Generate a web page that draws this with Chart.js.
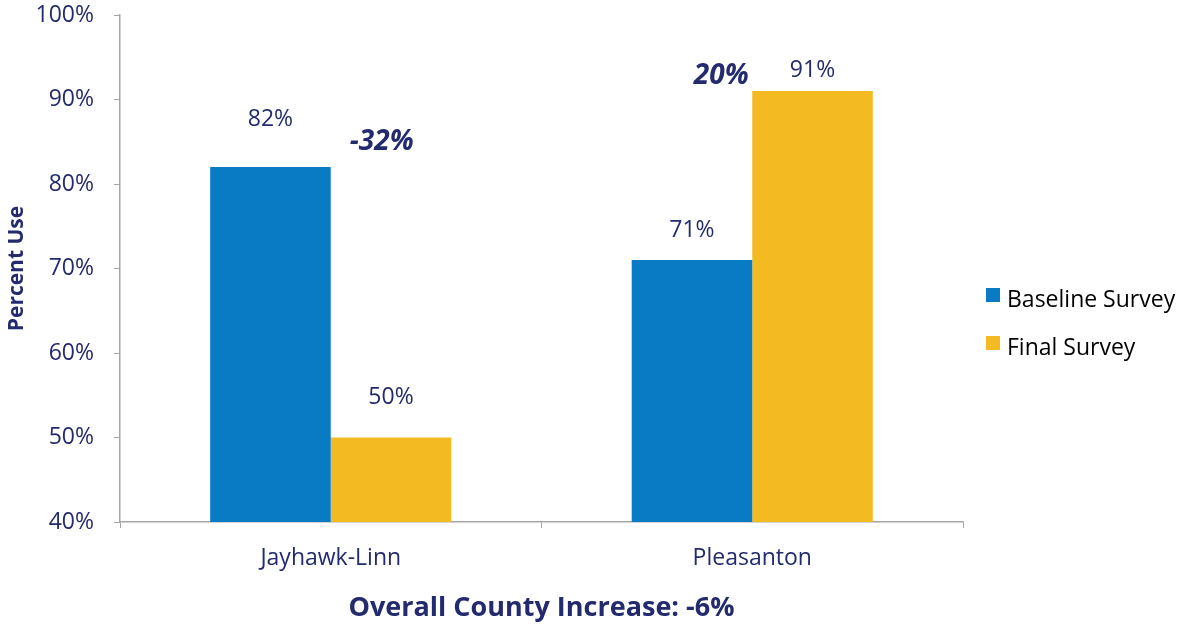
<!DOCTYPE html>
<html>
<head>
<meta charset="utf-8">
<script src="https://cdn.jsdelivr.net/npm/chart.js@4"></script>
<style>
  html, body { margin: 0; padding: 0; background: #fff; }
</style>
</head>
<body>
<canvas id="useChart" width="1185" height="625"></canvas>
<script>
const sites = ['Jayhawk-Linn', 'Pleasanton'];
const baseline = [82, 71];
const finalSurvey = [50, 91];
const changeLabels = ['-32%', '20%'];
const seriesNames = ['Baseline Survey', 'Final Survey'];
const overallLabel = 'Overall County Increase: -6%';

const navy = '#232B6E';
const blue = '#087BC4';
const gold = '#F4BA21';
const axisGray = '#A6A6A6';
const fontFamily = '"Open Sans", Lato, sans-serif';

// how far above each bar top its value label sits (px)
const valueLift = [[48, 30], [40, 21]];
// change label position relative to group centre and tallest bar top
const changeNudge = [{ dx: 51, dy: -25 }, { dx: -31, dy: -15 }];

const labelsPlugin = {
  id: 'labels',
  afterDatasetsDraw(chart) {
    const ctx = chart.ctx;
    ctx.save();
    ctx.textAlign = 'center';
    ctx.textBaseline = 'middle';

    // value labels over each bar
    ctx.font = '23px ' + fontFamily;
    ctx.fillStyle = navy;
    chart.data.datasets.forEach((ds, d) => {
      chart.getDatasetMeta(d).data.forEach((bar, i) => {
        ctx.fillText(ds.data[i] + '%', bar.x, bar.y - valueLift[d][i]);
      });
    });

    // change between surveys
    ctx.font = 'italic bold 28px ' + fontFamily;
    const b = chart.getDatasetMeta(0).data;
    const f = chart.getDatasetMeta(1).data;
    changeLabels.forEach((txt, i) => {
      const cx = (b[i].x + f[i].x) / 2;
      const top = Math.min(b[i].y, f[i].y);
      ctx.fillText(txt, cx + changeNudge[i].dx, top + changeNudge[i].dy);
    });

    // legend on the right
    const lx = 986, ly = [300, 348];
    ctx.textAlign = 'left';
    ctx.font = '23px ' + fontFamily;
    seriesNames.forEach((name, i) => {
      ctx.fillStyle = chart.data.datasets[i].backgroundColor;
      ctx.fillRect(lx, ly[i] - 12, 14, 14);
      ctx.fillStyle = '#000';
      ctx.fillText(name, lx + 21, ly[i]);
    });
    ctx.restore();
  }
};

new Chart(document.getElementById('useChart').getContext('2d'), {
  type: 'bar',
  data: {
    labels: sites,
    datasets: [
      { label: seriesNames[0], data: baseline, backgroundColor: blue },
      { label: seriesNames[1], data: finalSurvey, backgroundColor: gold }
    ]
  },
  options: {
    responsive: false,
    animation: false,
    layout: { padding: { top: 15, right: 222, left: 0, bottom: 0 } },
    datasets: { bar: { categoryPercentage: 0.572, barPercentage: 1.0 } },
    plugins: {
      legend: { display: false },
      tooltip: { enabled: false }
    },
    scales: {
      y: {
        min: 40,
        max: 100,
        ticks: {
          stepSize: 10,
          padding: 20,
          color: navy,
          font: { family: fontFamily, size: 23 },
          callback: v => v + '%'
        },
        grid: { drawOnChartArea: false, tickLength: 6, color: axisGray },
        border: { color: axisGray, width: 1.5 },
        title: {
          display: true,
          text: 'Percent Use',
          color: navy,
          font: { family: fontFamily, size: 21, weight: 'bold' },
          padding: { top: 4, bottom: 0 }
        },
        afterFit(scale) {
          scale.width = 120;
          scale.paddingTop = 0;
          scale.paddingBottom = 0;
        }
      },
      x: {
        ticks: {
          padding: 17,
          color: navy,
          font: { family: fontFamily, size: 23 }
        },
        grid: { drawOnChartArea: false, tickLength: 6, color: axisGray },
        border: { color: axisGray, width: 1.5 },
        title: {
          display: true,
          text: overallLabel,
          color: navy,
          font: { family: fontFamily, size: 27, weight: 'bold' },
          padding: { top: 9, bottom: 0 }
        },
        afterFit(scale) { scale.height = 103; }
      }
    }
  },
  plugins: [labelsPlugin]
});
</script>
</body>
</html>
